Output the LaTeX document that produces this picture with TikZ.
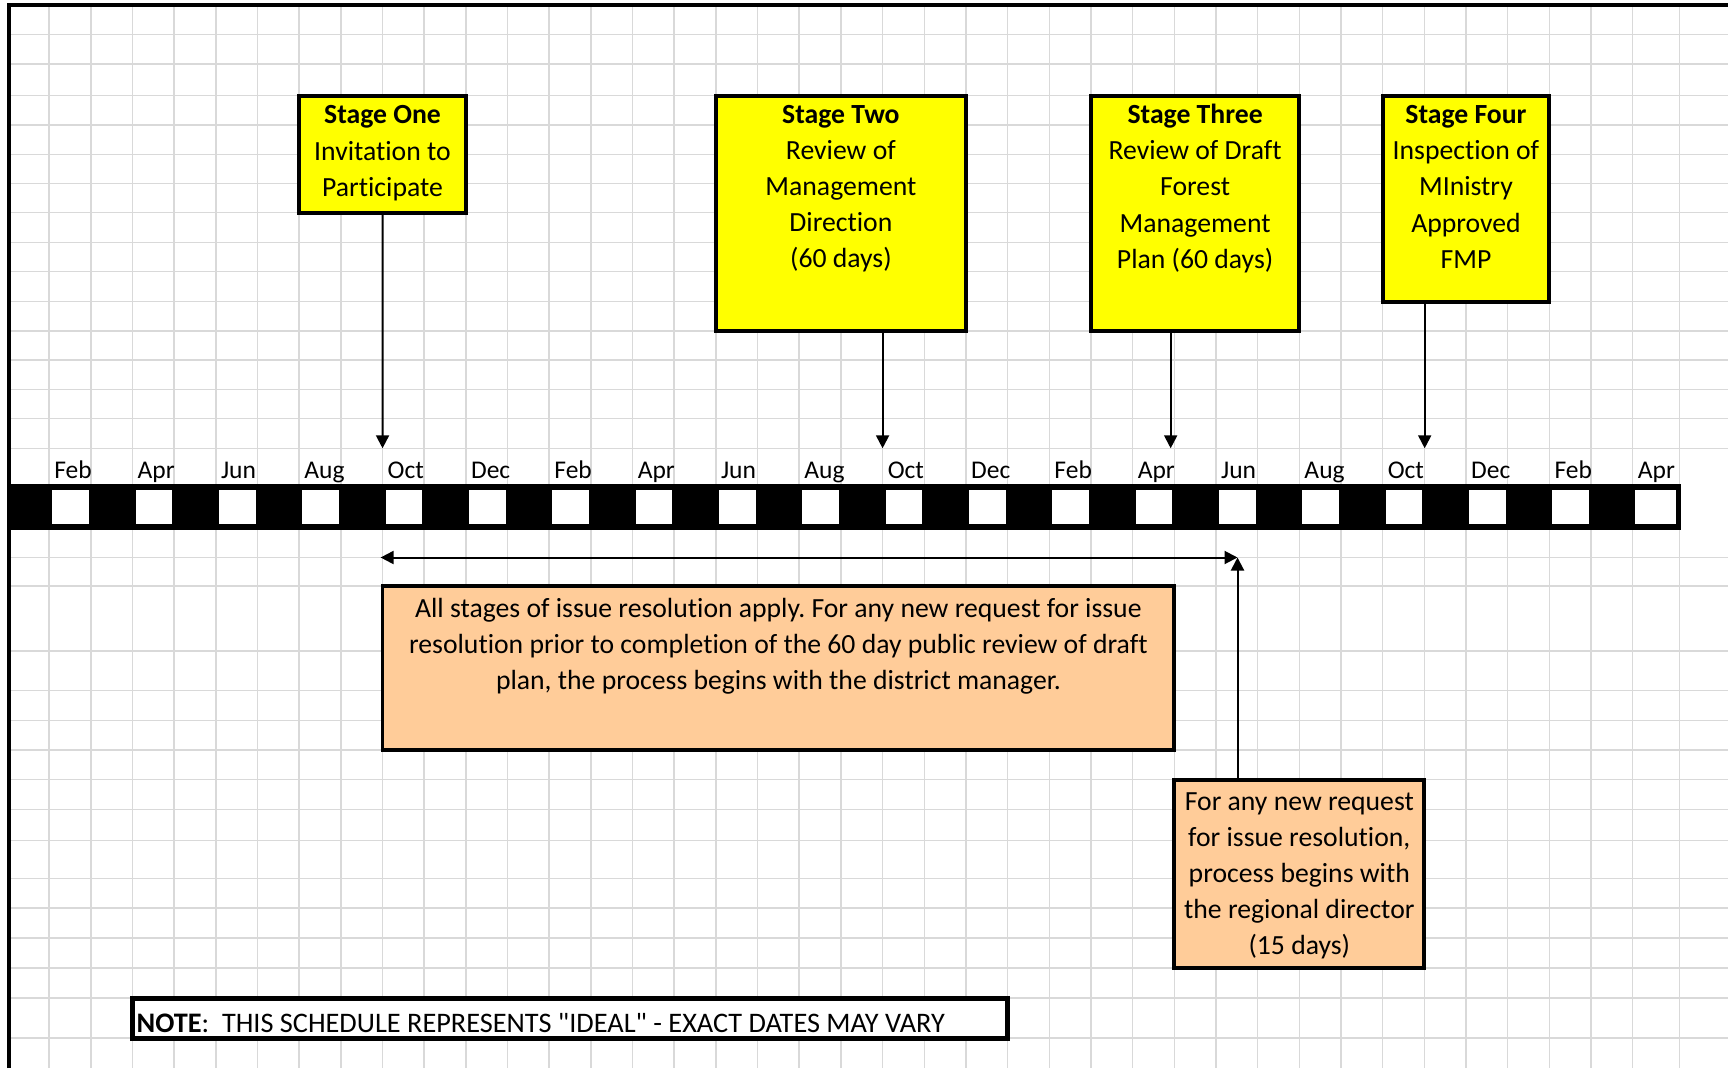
\documentclass[tikz,border=0pt]{standalone}
\usepackage{fontspec}
\setmainfont{Carlito}[Ligatures=NoCommon]
\usetikzlibrary{arrows.meta,fit,positioning}
\frenchspacing

\definecolor{gridgray}{RGB}{217,217,217}
\definecolor{stageyellow}{RGB}{255,255,0}
\definecolor{reviewtan}{RGB}{255,204,153}

\tikzset{
    gridline/.style={gridgray, line width=1.5pt},
    stagebox/.style={draw, line width=3.8pt, fill=stageyellow, inner sep=0pt},
    tanbox/.style={draw, line width=3.8pt, fill=reviewtan, inner sep=0pt},
    boxtext/.style={font=\fontsize{27.7}{36.2}\selectfont, align=center, inner sep=0pt, anchor=base},
    monthcell/.style={anchor=north west, inner xsep=5pt, inner ysep=0pt, text width=31.67pt,
        text height=30pt, text depth=6pt, align=left, font=\fontsize{25.5}{30}\selectfont},
    pointer/.style={line width=2pt, -{Triangle[length=13pt,width=13pt]}},
    twoway/.style={line width=2pt, {Triangle[length=13pt,width=13pt]}-{Triangle[length=13pt,width=13pt]}}
}

\begin{document}
\begin{tikzpicture}[x=1pt, y=-1pt]
    \useasboundingbox (0,0) rectangle (1728,1068);

    % Grid
    \foreach \k in {1,...,39}
        \draw[gridline] ({7.5+41.67*\k},5) -- ({7.5+41.67*\k},1068);
    \draw[gridline] (1679.3,5) -- (1679.3,1068);
    \foreach \r in {34.3,64,95.7,125,154.3,183.3,212.7,242.3,271.7,301.7,331,360,389.3,418.7,448.3,
                    557.7,586,651,690.3,720.5,750,779.7,809.3,840.3,878.7,908,938,968,998,1038}
        \draw[gridline] (10,\r) -- (1728,\r);

    % Page border
    \draw[line width=4.5pt] (8.8,1068) -- (8.8,5) -- (1728,5);

    % Timeline bar
    \fill (8.8,484) rectangle (1680.5,529.5);
    \foreach \k in {1,3,...,37}
        \fill[white] ({7.5+41.67*\k+3},489.5) rectangle ({7.5+41.67*(\k+1)-2},524);
    \fill[white] (1634.5,489.5) rectangle (1676,524);

    % Month labels
    \foreach \m [count=\i] in {Feb,Apr,Jun,Aug,Oct,Dec,Feb,Apr,Jun,Aug,Oct,Dec,Feb,Apr,Jun,Aug,Oct,Dec,Feb,Apr}
        \node[monthcell] (m\i) at ({7.5+41.67*(2*\i-1)},448.3) {\m};

    % Stages (text sits on the baseline of its last line)
    \node[stagebox, fit={(299.2,95.7) (465.8,212.7)}] (one) {};
    \node[boxtext] (onetext) at ([yshift=-102.5pt]one.north)
        {\textbf{Stage One}\\Invitation to\\Participate};
    \node[stagebox, fit={(715.9,95.7) (965.9,331)}] (two) {};
    \node[boxtext] (twotext) at ([yshift=-174pt]two.north)
        {\textbf{Stage Two}\\Review of\\Management\\Direction\\(60 days)};
    \node[stagebox, fit={(1090.9,95.7) (1299.3,331)}] (three) {};
    \node[boxtext] (threetext) at ([yshift=-174.5pt]three.north)
        {\textbf{Stage Three}\\Review of Draft\\Forest\\Management\\Plan (60 days)};
    \node[stagebox, fit={(1382.6,95.7) (1549.3,301.7)}] (four) {};
    \node[boxtext] (fourtext) at ([yshift=-174.5pt]four.north)
        {\textbf{Stage Four}\\Inspection of\\MInistry\\Approved\\FMP};

    \coordinate (aprtip) at ([xshift=-4pt]m14.north east);
    \draw[pointer] (one.south) -- (m5.north west);
    \draw[pointer] (two.south -| m11.north west) -- (m11.north west);
    \draw[pointer] (three.south -| aprtip) -- (aprtip);
    \draw[pointer] (four.south -| m17.north east) -- (m17.north east);

    % Issue resolution
    \node[tanbox, fit={(382.5,586) (1174.3,750)}] (district) {};
    \node[boxtext] (districttext) at ([yshift=-105.5pt]district.north)
        {All stages of issue resolution apply. For any new request for issue\\
         resolution prior to completion of the 60 day public review of draft\\
         plan, the process begins with the district manager.};
    \node[tanbox, fit={(1174.3,779.7) (1424.3,968)}] (regional) {};
    \node[boxtext] (regionaltext) at ([yshift=-177pt]regional.north)
        {For any new request\\for issue resolution,\\process begins with\\the regional director\\(15 days)};

    \coordinate (junction) at (1237.5,557.5);
    \draw[twoway] (district.north west |- junction) -- (junction);
    \draw[pointer] (regional.north -| junction) -- (junction);

    % Note
    \node[draw, line width=5pt, fill=white, inner sep=0pt, fit={(132.5,998) (1007.6,1038)}] (note) {};
    \node[anchor=base west, inner sep=0pt, font=\fontsize{28.3}{32}\selectfont] (notetext)
        at ([xshift=6.5pt, yshift=7.8pt]note.south west)
        {\textbf{NOTE}:\ \ THIS SCHEDULE REPRESENTS \textquotedbl IDEAL\textquotedbl\ - EXACT DATES MAY VARY};
\end{tikzpicture}
\end{document}
